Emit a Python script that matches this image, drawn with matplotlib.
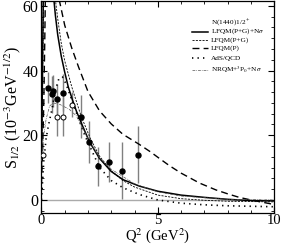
import numpy as np
import matplotlib.pyplot as plt
from matplotlib.ticker import MultipleLocator

plt.rcParams['font.family'] = ['Liberation Serif', 'DejaVu Serif']
plt.rcParams['mathtext.fontset'] = 'stix'

nan = np.nan

# LFQM(P+G)+N sigma (solid)
q2_pgs = [0.0, 0.02, 0.04, 0.06, 0.08, nan, 0.52, 0.6, 0.7, 0.85, 1.0, 1.15, 1.33, 1.5, 1.73,
          2.06, 2.5, 3.0, 3.5, 4.2, 5.0, 6.0, 7.0, 8.0, 8.5, 9.0, 10.0]
s_pgs = [10, 22, 36, 50, 64, nan, 63, 57, 51, 44.5, 39.5, 35, 31, 27.5, 23.5,
         18, 12.8, 8.8, 6.3, 4.3, 2.7, 1.5, 0.8, 0.2, 0.0, -0.2, -0.3]

# LFQM(P+G) (thin dashed)
q2_pg = [0.0, 0.03, 0.06, 0.09, nan, 0.58, 0.7, 0.85, 1.0, 1.3, 1.7, 2.1, 2.5, 3.0, 3.5,
         4.0, 5.0, 6.0, 7.0, 8.0, 10.0]
s_pg = [9, 24, 44, 64, nan, 63, 56, 48.5, 43, 35, 26, 19, 13.5, 9, 6,
        4, 1.5, 0.4, -0.1, -0.4, -0.6]

# LFQM(P) (long dashed)
q2_p = [0.0, 0.05, 0.1, 0.14, 0.17, nan, 0.76, 1.0, 1.3, 1.6, 2.0, 2.5, 3.0, 3.5, 4.2,
        4.7, 5.0, 5.5, 6.0, 6.8, 7.5, 8.0, 8.5, 9.0, 9.5, 10.0]
s_p = [5, 15, 30, 48, 64, nan, 62, 54, 47, 41, 33.5, 27.5, 23.5, 20.3, 17.2,
       14.8, 13.2, 10.6, 8.3, 5.2, 3.1, 1.9, 0.8, 0.0, -0.7, -1.4]

# AdS/QCD (dotted)
q2_ads = [0.0, 0.1, 0.2, 0.3, 0.45, 0.6, 0.75, 0.9, 1.05, 1.2, 1.5, 1.86, 2.5, 3.0, 3.5,
          4.2, 5.0, 6.0, 7.0, 8.0, 10.0]
s_ads = [0, 12, 19, 23, 28, 34, 37.5, 38, 36, 33, 27, 20, 10, 6, 3.8,
         1.7, 0.0, -1.0, -1.5, -1.8, -2.1]

# NRQM+3P0+N sigma (dash-dot)
q2_nr = [0.0, 0.1, 0.2, 0.35, 0.5, 0.8, 1.2, 1.5, 2.0, 2.5, 3.0, 4.0, 5.0, 6.0, 8.0, 10.0]
s_nr = [12, 20, 25, 29, 30, 29.5, 28, 26, 19, 13, 9.5, 5, 2.5, 1.2, 0.2, 0.0]

# data, filled
q2_f = [0.29, 0.44, 0.51, 0.65, 0.91, 1.72, 2.05, 2.44, 2.91, 3.48, 4.16]
s_f = [34.7, 32.6, 33.7, 31.2, 33.2, 25.7, 17.9, 10.4, 11.8, 9.1, 14.0]
e_f = [4.8, 5.6, 5.0, 4.5, 5.7, 6.6, 6.4, 6.0, 6.2, 8.7, 8.9]

# data, open
q2_o = [0.08, 0.68, 0.94, 1.33]
s_o = [14.0, 25.7, 25.7, 29.5]
e_o = [1.0, 6.0, 6.0, 4.0]

legend_title = 'N(1440)1/2$^+$'
legend_labels = ['LFQM(P+G)+N$\\sigma$', 'LFQM(P+G)', 'LFQM(P)', 'AdS/QCD',
                 'NRQM+$^3$P$_0$+N$\\sigma$']

styles = [
    dict(color='k', lw=1.1),
    dict(color='k', lw=0.6, dashes=(2.5, 1.5)),
    dict(color='k', lw=1.0, dashes=(5, 3)),
    dict(color='k', lw=1.2, dashes=(0.8, 2.5)),
    dict(color='#555555', lw=0.5, dashes=(4, 1.5, 1, 1.5)),
]
curves = [(q2_pgs, s_pgs), (q2_pg, s_pg), (q2_p, s_p), (q2_ads, s_ads), (q2_nr, s_nr)]

fig = plt.figure(figsize=(2.82, 2.49), dpi=100)
ax = fig.add_axes([0.147, 0.145, 0.825, 0.851])

ax.axhline(0, color='#aaaaaa', lw=1.0, zorder=1)

ax.errorbar(q2_f, s_f, yerr=e_f, fmt='none', ecolor='#808080', elinewidth=1.0, zorder=2)
ax.errorbar(q2_o, s_o, yerr=e_o, fmt='none', ecolor='#808080', elinewidth=1.0, zorder=2)

for (x, y), st in zip(curves, styles):
    ax.plot(x, y, zorder=4, **st)

ax.plot(q2_f, s_f, 'o', ms=3.6, mfc='k', mec='k', zorder=5)
ax.plot(q2_o, s_o, 'o', ms=3.6, mfc='white', mec='k', mew=0.7, zorder=5)

ax.set_xlim(0, 10)
ax.set_ylim(-4, 61.5)
ax.xaxis.set_major_locator(MultipleLocator(5))
ax.xaxis.set_minor_locator(MultipleLocator(1))
ax.yaxis.set_major_locator(MultipleLocator(20))
ax.yaxis.set_minor_locator(MultipleLocator(20 / 6))
ax.tick_params(which='both', direction='in', top=True, right=True, labelsize=11.5)
ax.tick_params(which='major', length=4, width=0.8, pad=2)
ax.tick_params(axis='x', which='major', pad=1, labelsize=10.5)
ax.tick_params(which='minor', length=2, width=0.6)
for sp in ax.spines.values():
    sp.set_linewidth(0.9)

ax.set_xlabel(r'Q$^2$ (GeV$^2$)', fontsize=10.5, labelpad=-1)
ax.set_ylabel(r'S$_{1/2}$ (10$^{-3}$GeV$^{-1/2}$)', fontsize=11.5, labelpad=0)

# legend drawn by hand, axes fraction coordinates
ax.text(0.729, 0.898, legend_title, transform=ax.transAxes, fontsize=5.2,
        va='center', ha='left')
rows = [0.856, 0.816, 0.776, 0.729, 0.675]
for yy, lab, st in zip(rows, legend_labels, styles):
    ax.plot([0.646, 0.716], [yy, yy], transform=ax.transAxes, **st)
    ax.text(0.729, yy, lab, transform=ax.transAxes, fontsize=5.2, va='center', ha='left')

fig.savefig('out.png', dpi=100)
